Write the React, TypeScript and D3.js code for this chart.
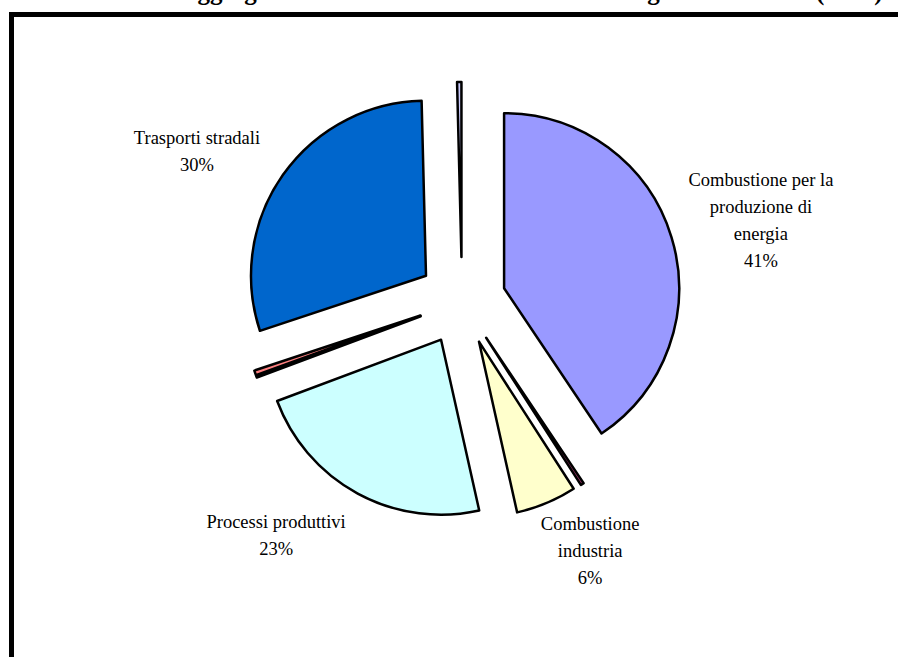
import React from "react";
import * as d3 from "d3";

// ---- data ----
const categories = [
  "Combustione per la produzione di energia",
  "Combustione non industriale",
  "Combustione industria",
  "Processi produttivi",
  "Estrazione combustibili",
  "Uso di solventi",
  "Trasporti stradali",
  "Altre sorgenti mobili",
];
const values = [40.6, 0.3, 5.6, 22.8, 0.15, 0.45, 29.7, 0.4];
const colors = ["#9999FF", "#993366", "#FFFFCC", "#CCFFFF", "#660066", "#FF8080", "#0066CC", "#CCCCFF"];
// label text lines (only labelled slices)
const labelLines: Record<number, string[]> = {
  0: ["Combustione per la", "produzione di", "energia"],
  2: ["Combustione", "industria"],
  3: ["Processi produttivi"],
  6: ["Trasporti stradali"],
};
const titleParts = ["Emissioni di NOx: dati", "aggregati dei macrosettori nella", "Regione Lazio", "(1995)"];

// ---- layout ----
const W = 898, H = 657;
const CX = 462, CY = 301, R = 175, EXPLODE = 44;
const LINE_H = 27;
// label placement (polar, relative to pie centre): angle in degrees clockwise from top
const labelPolar: Record<number, { a: number; r: number }> = {
  0: { a: 74.9, r: 309.6 },
  2: { a: 152.9, r: 281.3 },
  3: { a: 218.4, r: 299.3 },
  6: { a: 299.5, r: 304.5 },
};

export default function App() {
  const pie = d3.pie<number>().sort(null).value((d) => d);
  const arcs = pie(values);
  const arcGen = d3.arc<d3.PieArcDatum<number>>().innerRadius(0).outerRadius(R);
  const font = "'Liberation Serif', 'Times New Roman', serif";
  const total = d3.sum(values);

  return (
    <svg
      width={W}
      height={H}
      style={{ position: "absolute", left: 0, top: 0, background: "#fff" }}
      fontFamily={font}
    >
      <rect x={0} y={0} width={W} height={H} fill="#fff" />
      {/* title (cut off at top) */}
      <g fontWeight="bold" fontSize={25} fill="#000">
        <text x={178} y={-0.5} textAnchor="end">{titleParts[0]}</text>
        <text x={185} y={-0.5}>{titleParts[1]}</text>
        <text x={618} y={-0.5}>{titleParts[2]}</text>
        <text x={816} y={-0.5}>{titleParts[3]}</text>
      </g>
      {/* frame */}
      <rect x={11.5} y={14.5} width={1000} height={1000} fill="none" stroke="#000" strokeWidth={5} />
      {/* slices */}
      <g transform={`translate(${CX},${CY})`}>
        {arcs.map((a, i) => {
          const mid = (a.startAngle + a.endAngle) / 2;
          const dx = EXPLODE * Math.sin(mid);
          const dy = -EXPLODE * Math.cos(mid);
          return (
            <path
              key={categories[i]}
              d={arcGen(a) || ""}
              transform={`translate(${dx},${dy})`}
              fill={colors[i]}
              stroke="#000"
              strokeWidth={2.5}
              strokeLinejoin="round"
            />
          );
        })}
      </g>
      {/* labels */}
      <g fontSize={18.5} fill="#000" textAnchor="middle">
        {Object.keys(labelLines).map((k) => {
          const i = +k;
          const lines = [...labelLines[i], `${Math.round((values[i] / total) * 100)}%`];
          const p = labelPolar[i];
          const ang = (p.a * Math.PI) / 180;
          const lx = CX + p.r * Math.sin(ang);
          const ly = CY - p.r * Math.cos(ang);
          const top = ly - ((lines.length - 1) * LINE_H) / 2;
          return (
            <text key={k}>
              {lines.map((l, j) => (
                <tspan key={j} x={lx} y={top + j * LINE_H + 6}>
                  {l}
                </tspan>
              ))}
            </text>
          );
        })}
      </g>
    </svg>
  );
}
